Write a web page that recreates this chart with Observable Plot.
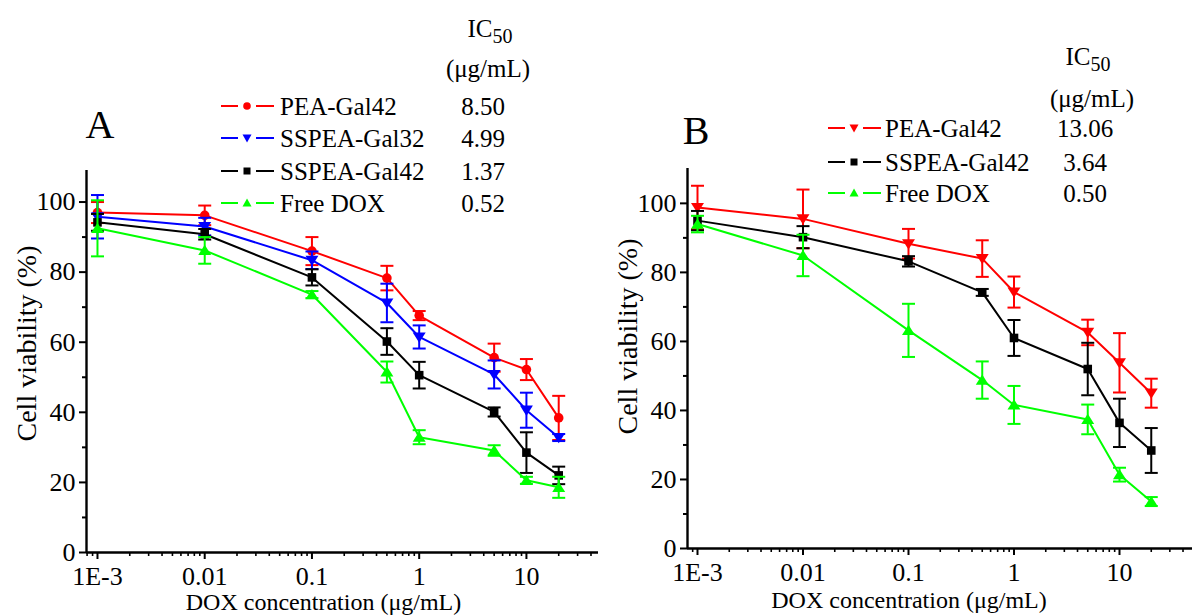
<!DOCTYPE html>
<html><head><meta charset="utf-8">
<script src="https://cdn.jsdelivr.net/npm/d3@7"></script>
<script src="https://cdn.jsdelivr.net/npm/@observablehq/plot@0.6"></script>
<style>
body{margin:0;background:#fff;}
#wrap{position:relative;width:1192px;height:616px;overflow:hidden;font-family:"Liberation Serif","Times New Roman",serif;color:#000;background:#fff;}
.panel{position:absolute;top:0;}
.panel svg text{font-family:"Liberation Serif","Times New Roman",serif;fill:#000;}
.ov{position:absolute;white-space:nowrap;line-height:1;}
.c{transform:translate(-50%,-50%);}
.l{transform:translate(0,-50%);}
sub{font-size:0.8em;vertical-align:-0.3em;line-height:0;}
</style></head><body><div id="wrap"></div>
<script>
// ---------- data ----------
const conc = [0.001, 0.01, 0.1, 0.5, 1, 5, 10, 20];
const xTicks = [0.001, 0.01, 0.1, 1, 10];
const xTickLabels = ["1E-3", "0.01", "0.1", "1", "10"];
const yTicks = [0, 20, 40, 60, 80, 100];
const yMinorTicks = [10, 30, 50, 70, 90];

// Panel A
const seriesNamesA = ["PEA-Gal42", "SSPEA-Gal32", "SSPEA-Gal42", "Free DOX"];
const ic50A = ["8.50", "4.99", "1.37", "0.52"];
const aPEAGal42 = [97.0, 96.2, 86.0, 78.3, 67.6, 55.6, 52.2, 38.4];
const aPEAGal42Err = [3.0, 2.8, 4.0, 3.5, 1.3, 4.0, 3.0, 6.3];
const aSSPEAGal32 = [95.8, 93.0, 83.4, 71.2, 61.5, 50.8, 40.6, 32.8];
const aSSPEAGal32Err = [6.2, 2.5, 2.5, 5.5, 3.3, 4.0, 5.0, 1.0];
const aSSPEAGal42 = [94.2, 90.8, 78.5, 60.2, 50.6, 40.1, 28.5, 22.0];
const aSSPEAGal42Err = [2.4, 1.5, 2.3, 3.8, 3.8, 1.3, 5.8, 2.5];
const aFreeDOX = [92.5, 86.2, 73.6, 51.5, 32.9, 29.1, 20.6, 18.6];
const aFreeDOXErr = [8.0, 3.8, 1.0, 3.0, 2.0, 1.5, 1.0, 3.0];

// Panel B
const seriesNamesB = ["PEA-Gal42", "SSPEA-Gal42", "Free DOX"];
const ic50B = ["13.06", "3.64", "0.50"];
const bPEAGal42 = [98.8, 95.5, 88.3, 84.0, 74.3, 62.6, 53.8, 45.0];
const bPEAGal42Err = [6.3, 8.5, 4.3, 5.3, 4.5, 3.7, 8.6, 4.2];
const bSSPEAGal42 = [95.0, 90.2, 83.2, 74.2, 61.0, 52.0, 36.4, 28.4];
const bSSPEAGal42Err = [2.8, 3.2, 1.5, 1.0, 5.2, 7.6, 7.0, 6.5];
const bFreeDOX = [94.0, 84.9, 63.2, 48.8, 41.6, 37.4, 21.4, 13.6];
const bFreeDOXErr = [2.4, 6.0, 7.7, 5.4, 5.5, 4.3, 2.0, 1.3];

const xTitle = "DOX concentration (\u03bcg/mL)";
const yTitle = "Cell viability (%)";

// ---------- symbols ----------
function makeSym(kind, s) {
  return {draw(c) {
    if (kind === "circle") { c.moveTo(s, 0); c.arc(0, 0, s, 0, 2 * Math.PI); }
    else if (kind === "square") { c.rect(-s, -s, 2 * s, 2 * s); }
    else if (kind === "up") { c.moveTo(0, -s * 1.05); c.lineTo(s * 1.2, s * 0.85); c.lineTo(-s * 1.2, s * 0.85); c.closePath(); }
    else if (kind === "down") { c.moveTo(0, s * 1.05); c.lineTo(s * 1.2, -s * 0.85); c.lineTo(-s * 1.2, -s * 0.85); c.closePath(); }
    else if (kind === "cap") { c.moveTo(-s, 0); c.lineTo(s, 0); }
  }};
}
const capSym = makeSym("cap", 6.5);
const markerSym = {circle: makeSym("circle", 4.8), square: makeSym("square", 4.3), up: makeSym("up", 5.4), down: makeSym("down", 5.4)};

function legendSvg(color, kind) {
  let m = "";
  if (kind === "circle") m = `<circle cx="26" cy="8" r="3.8" fill="${color}"/>`;
  else if (kind === "square") m = `<rect x="22.5" y="4.5" width="7" height="7" fill="${color}"/>`;
  else if (kind === "up") m = `<path d="M26,3.5L30.5,11.5L21.5,11.5Z" fill="${color}"/>`;
  else m = `<path d="M26,12.5L30.5,4.5L21.5,4.5Z" fill="${color}"/>`;
  return `<svg width="53" height="16" style="display:block"><line x1="0" y1="8" x2="17" y2="8" stroke="${color}" stroke-width="2"/><line x1="35" y1="8" x2="53" y2="8" stroke="${color}" stroke-width="2"/>${m}</svg>`;
}

function buildPanel(cfg) {
  const minor = d3.scaleLog().domain(cfg.xDomain).ticks().filter(t => !xTicks.some(m => Math.abs(m - t) / m < 1e-9));
  const marks = [
    Plot.axisY({ticks: yTicks, tickSize: 7, tickPadding: 4, fontSize: 26, label: null, strokeWidth: 2}),
    Plot.axisY({ticks: yMinorTicks, tickSize: 4, tickFormat: () => "", label: null, strokeWidth: 2}),
    Plot.axisX({ticks: xTicks, tickSize: 7, tickPadding: 7, fontSize: 26, label: null, strokeWidth: 2,
      tickFormat: d => xTickLabels[xTicks.findIndex(t => Math.abs(t - d) / t < 1e-9)]}),
    Plot.axisX({ticks: minor, tickSize: 4, tickFormat: () => "", label: null, strokeWidth: 1.6}),
    Plot.ruleY([0], {strokeWidth: 2.4}),
    Plot.ruleX([cfg.xDomain[0]], {strokeWidth: 2.4}),
    Plot.text([xTitle], {frameAnchor: "bottom", textAnchor: "middle", lineAnchor: "middle", dx: cfg.xLabelDx, dy: cfg.xLabelDy, fontSize: 24}),
    Plot.text([yTitle], {frameAnchor: "left", textAnchor: "middle", lineAnchor: "middle", rotate: -90, dx: cfg.yLabelDx, dy: cfg.yLabelDy, fontSize: 28})
  ];
  for (const s of cfg.series) {
    const data = conc.map((x, i) => ({x, y: s.values[i], e: s.err[i]}));
    marks.push(
      Plot.line(data, {x: "x", y: "y", stroke: s.color, strokeWidth: 2}),
      Plot.ruleX(data, {x: "x", y1: d => d.y - d.e, y2: d => d.y + d.e, stroke: s.color, strokeWidth: 2}),
      Plot.dot(data, {x: "x", y: d => d.y + d.e, symbol: capSym, stroke: s.color, fill: "none", strokeWidth: 2}),
      Plot.dot(data, {x: "x", y: d => d.y - d.e, symbol: capSym, stroke: s.color, fill: "none", strokeWidth: 2}),
      Plot.dot(data, {x: "x", y: "y", symbol: markerSym[s.symbol], fill: s.color, stroke: "none"})
    );
  }
  const svg = Plot.plot({
    width: cfg.width, height: 616,
    marginLeft: cfg.marginLeft, marginRight: cfg.marginRight, marginTop: cfg.marginTop, marginBottom: cfg.marginBottom,
    x: {type: "log", domain: cfg.xDomain},
    y: {domain: [0, cfg.yMax]},
    style: {fontFamily: "'Liberation Serif', 'Times New Roman', serif", fontSize: "24px", color: "#000", background: "transparent", overflow: "visible"},
    marks
  });
  const holder = document.createElement("div");
  holder.className = "panel";
  holder.style.left = cfg.left + "px";
  holder.style.width = cfg.width + "px";
  holder.appendChild(svg);
  document.getElementById("wrap").appendChild(holder);
}

function addText(html, x, y, cls, size) {
  const d = document.createElement("div");
  d.className = "ov " + cls;
  d.style.left = x + "px"; d.style.top = y + "px"; d.style.fontSize = size + "px";
  d.innerHTML = html;
  document.getElementById("wrap").appendChild(d);
}

function buildLegend(cfg) {
  addText(cfg.letter, cfg.letterX, cfg.letterY, "c", 40);
  addText("IC<sub>50</sub>", cfg.icX, cfg.icY, "c", 25);
  addText("(\u03bcg/mL)", cfg.unitX, cfg.unitY, "c", 25);
  cfg.series.forEach((s, i) => {
    const y = cfg.rowY[i];
    addText(legendSvg(s.color, s.symbol), cfg.symX, y, "l", 16);
    addText(s.name, cfg.textX, y, "l", 25);
    addText(s.ic, cfg.valX, y, "c", 25);
  });
}

const seriesA = [
  {name: seriesNamesA[0], ic: ic50A[0], values: aPEAGal42, err: aPEAGal42Err, color: "#ff0000", symbol: "circle"},
  {name: seriesNamesA[1], ic: ic50A[1], values: aSSPEAGal32, err: aSSPEAGal32Err, color: "#0000ff", symbol: "down"},
  {name: seriesNamesA[2], ic: ic50A[2], values: aSSPEAGal42, err: aSSPEAGal42Err, color: "#000000", symbol: "square"},
  {name: seriesNamesA[3], ic: ic50A[3], values: aFreeDOX, err: aFreeDOXErr, color: "#00ff00", symbol: "up"}
];
const seriesB = [
  {name: seriesNamesB[0], ic: ic50B[0], values: bPEAGal42, err: bPEAGal42Err, color: "#ff0000", symbol: "down"},
  {name: seriesNamesB[1], ic: ic50B[1], values: bSSPEAGal42, err: bSSPEAGal42Err, color: "#000000", symbol: "square"},
  {name: seriesNamesB[2], ic: ic50B[2], values: bFreeDOX, err: bFreeDOXErr, color: "#00ff00", symbol: "up"}
];

buildPanel({left: 0, width: 600, marginLeft: 86, marginRight: 2, marginTop: 170, marginBottom: 64, yMax: 109,
  xDomain: [0.00079, 47], xLabelDx: -19, xLabelDy: 50, yLabelDx: -59, yLabelDy: -18, series: seriesA});
buildPanel({left: 600, width: 592, marginLeft: 87, marginRight: 0, marginTop: 168, marginBottom: 68, yMax: 110.1,
  xDomain: [0.000804, 49.2], xLabelDx: -31, xLabelDy: 52, yLabelDx: -59, yLabelDy: -22, series: seriesB});

buildLegend({letter: "A", letterX: 100, letterY: 125, icX: 490, icY: 28, unitX: 488, unitY: 68,
  symX: 221, textX: 280, valX: 483, rowY: [106, 138, 171, 203], series: seriesA});
buildLegend({letter: "B", letterX: 696, letterY: 131, icX: 1088, icY: 56, unitX: 1092, unitY: 98,
  symX: 828, textX: 885, valX: 1085, rowY: [128, 162, 193], series: seriesB});
</script></body></html>
